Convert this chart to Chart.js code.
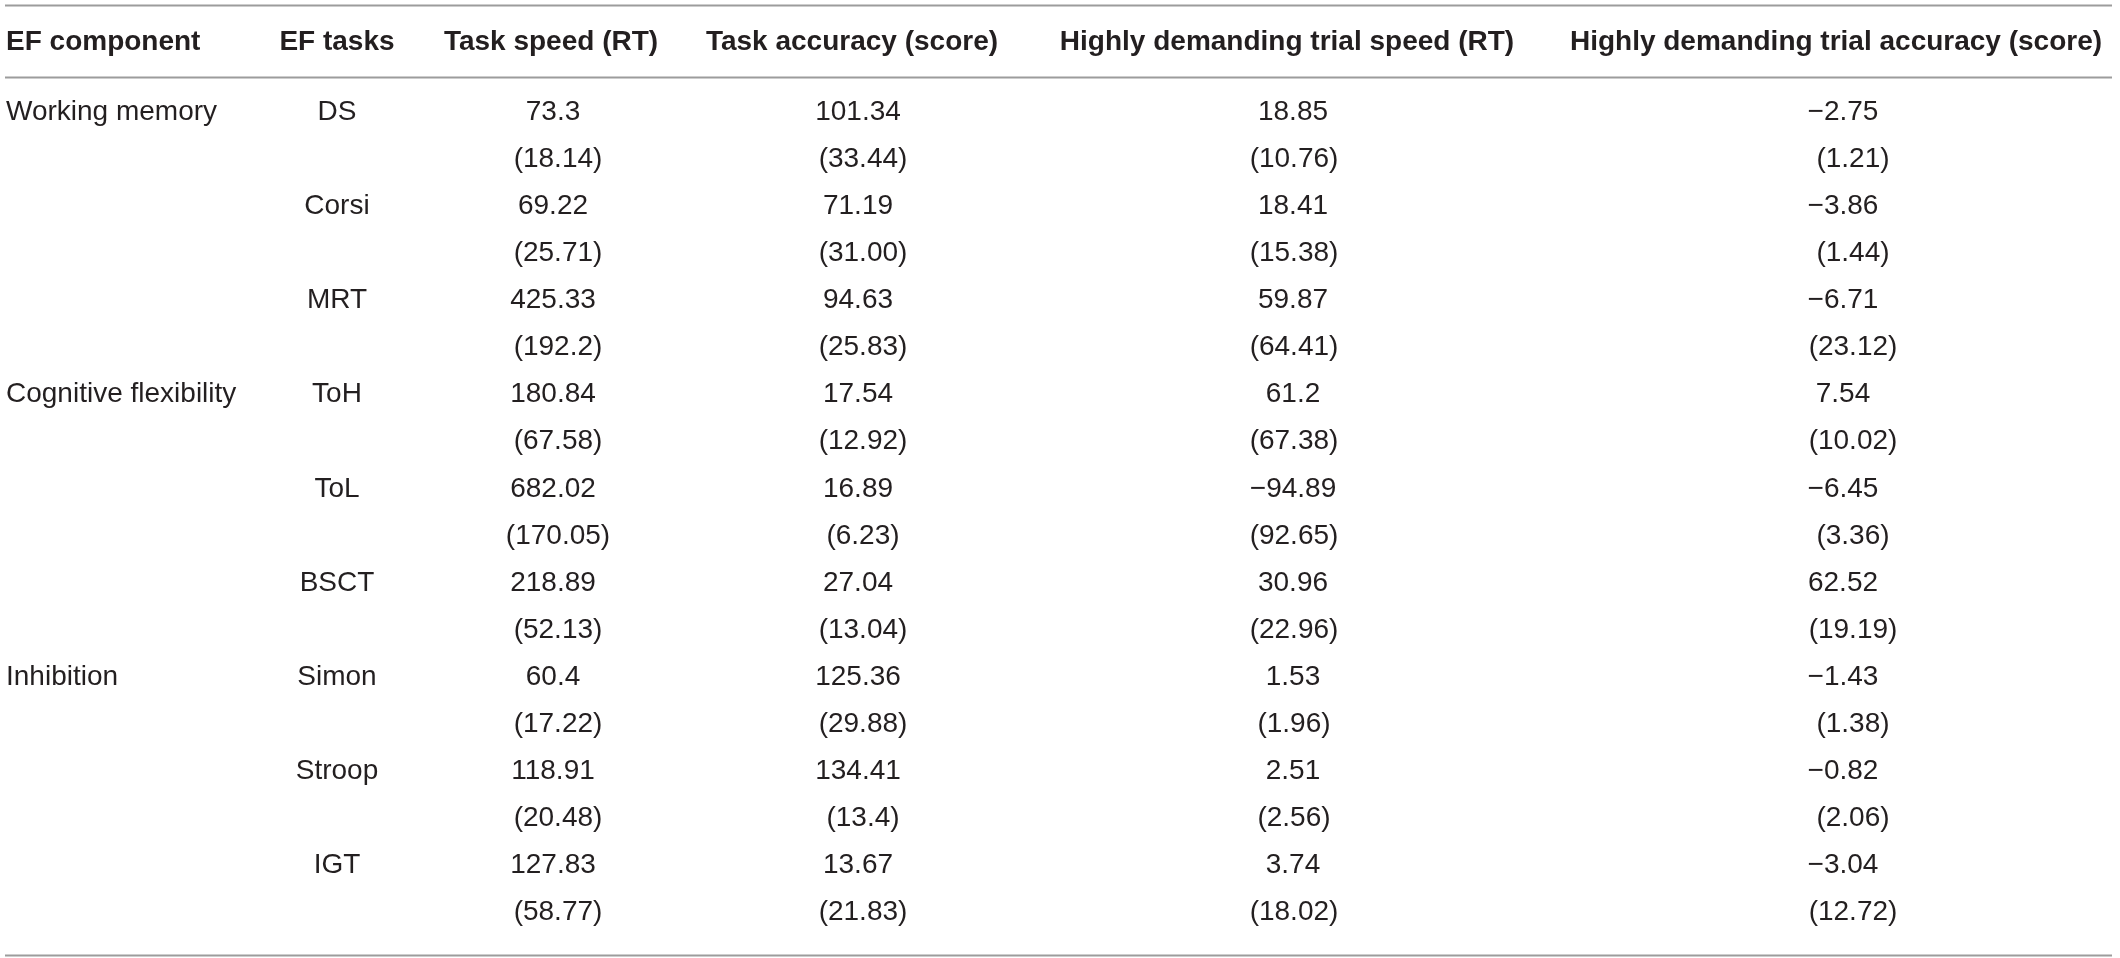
<!DOCTYPE html>
<html>
<head>
<meta charset="utf-8">
<script src="https://cdn.jsdelivr.net/npm/chart.js@4.4.1/dist/chart.umd.min.js"></script>
<style>
  html, body { margin: 0; padding: 0; background: #fff; }
  #wrap { width: 2120px; height: 958px; }
</style>
</head>
<body>
<div id="wrap"><canvas id="efTable" width="2120" height="958"></canvas></div>
<script>
// table content
const headers = ['EF component', 'EF tasks', 'Task speed (RT)', 'Task accuracy (score)',
    'Highly demanding trial speed (RT)', 'Highly demanding trial accuracy (score)'];
const components = ['Working memory', 'Cognitive flexibility', 'Inhibition'];
const tasks = ['DS', 'Corsi', 'MRT', 'ToH', 'ToL', 'BSCT', 'Simon', 'Stroop', 'IGT'];
const taskComponent = [0, 0, 0, 1, 1, 1, 2, 2, 2];

// mean and (SD) per task
const speedMean = ['73.3', '69.22', '425.33', '180.84', '682.02', '218.89', '60.4', '118.91', '127.83'];
const speedSD = ['18.14', '25.71', '192.2', '67.58', '170.05', '52.13', '17.22', '20.48', '58.77'];
const accMean = ['101.34', '71.19', '94.63', '17.54', '16.89', '27.04', '125.36', '134.41', '13.67'];
const accSD = ['33.44', '31.00', '25.83', '12.92', '6.23', '13.04', '29.88', '13.4', '21.83'];
const hdSpeedMean = ['18.85', '18.41', '59.87', '61.2', '-94.89', '30.96', '1.53', '2.51', '3.74'];
const hdSpeedSD = ['10.76', '15.38', '64.41', '67.38', '92.65', '22.96', '1.96', '2.56', '18.02'];
const hdAccMean = ['-2.75', '-3.86', '-6.71', '7.54', '-6.45', '62.52', '-1.43', '-0.82', '-3.04'];
const hdAccSD = ['1.21', '1.44', '23.12', '10.02', '3.36', '19.19', '1.38', '2.06', '12.72'];

// layout (pixels / row units)
const colX = [6, 337, 553, 858, 1293, 1843];
const sdShift = [0, 0, 5, 5, 1, 10];
const headX = [6, 337, 551, 852, 1287, 1836];
const headerRow = -1.486;
const rules = [-2.27, -0.743, 17.9];

const FONT = '"Liberation Sans", Arial, Helvetica, sans-serif';
const INK = '#231f20';

const fmt = s => s.startsWith('-') ? '\u2212' + s.slice(1) : s;

function valueCol(col, means, sds) {
    const pts = [];
    means.forEach((m, i) => {
        pts.push({x: colX[col], y: i * 2, text: fmt(m)});
        pts.push({x: colX[col] + sdShift[col], y: i * 2 + 1, text: '(' + sds[i] + ')'});
    });
    return {data: pts, align: 'center', bold: false};
}

const datasets = [
    {data: headers.map((h, i) => ({x: headX[i], y: headerRow, text: h})), bold: true, alignFirstLeft: true},
    {
        data: components.map((c, k) => ({x: colX[0], y: taskComponent.indexOf(k) * 2, text: c})),
        align: 'left', bold: false
    },
    {data: tasks.map((t, i) => ({x: colX[1], y: i * 2, text: t})), align: 'center', bold: false},
    valueCol(2, speedMean, speedSD),
    valueCol(3, accMean, accSD),
    valueCol(4, hdSpeedMean, hdSpeedSD),
    valueCol(5, hdAccMean, hdAccSD)
].map(d => Object.assign(d, {pointRadius: 0, pointHoverRadius: 0}));

const tablePlugin = {
    id: 'tableText',
    beforeDatasetsDraw(chart) {
        const {ctx, chartArea, scales} = chart;
        ctx.save();
        ctx.strokeStyle = '#9c9c9c';
        ctx.lineWidth = 2;
        rules.forEach(r => {
            const y = Math.round(scales.y.getPixelForValue(r)) + 0.5;
            ctx.beginPath();
            ctx.moveTo(chartArea.left + 5, y);
            ctx.lineTo(chartArea.right - 8, y);
            ctx.stroke();
        });
        ctx.restore();
    },
    afterDatasetsDraw(chart) {
        const {ctx} = chart;
        ctx.save();
        ctx.fillStyle = INK;
        ctx.textBaseline = 'middle';
        chart.data.datasets.forEach((ds, di) => {
            const meta = chart.getDatasetMeta(di);
            ctx.font = (ds.bold ? 'bold ' : '') + '28px ' + FONT;
            meta.data.forEach((el, i) => {
                let align = ds.align || 'center';
                if (ds.alignFirstLeft) align = i === 0 ? 'left' : 'center';
                ctx.textAlign = align;
                ctx.fillText(ds.data[i].text, el.x, el.y);
            });
        });
        ctx.restore();
    }
};

new Chart(document.getElementById('efTable'), {
    type: 'scatter',
    data: {datasets: datasets},
    options: {
        responsive: false,
        animation: false,
        devicePixelRatio: 1,
        events: [],
        layout: {padding: 0},
        scales: {
            x: {type: 'linear', min: 0, max: 2120, display: false},
            y: {type: 'linear', reverse: true, min: -2.378, max: 17.962, display: false}
        },
        plugins: {
            legend: {display: false},
            tooltip: {enabled: false}
        }
    },
    plugins: [tablePlugin]
});
</script>
</body>
</html>
